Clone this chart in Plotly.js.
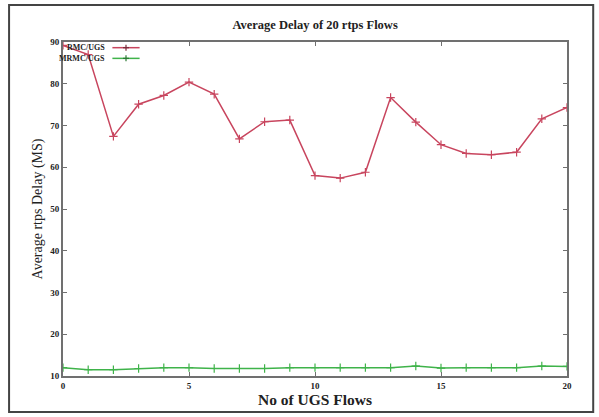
<!DOCTYPE html>
<html>
<head>
<meta charset="utf-8">
<script src="https://cdn.plot.ly/plotly-3.0.1.min.js"></script>
<style>html,body{margin:0;padding:0;background:#fff;}#chart{width:599px;height:417px;}</style>
</head>
<body>
<div id="chart"></div>
<script>
const flows = [0,1,2,3,4,5,6,7,8,9,10,11,12,13,14,15,16,17,18,19,20];
const rmcDelay = [89.2,87.0,67.4,75.1,77.2,80.4,77.5,66.8,70.9,71.3,58.0,57.4,58.8,76.7,70.8,65.4,63.3,63.0,63.6,71.6,74.3];
const mrmcDelay = [12.0,11.5,11.5,11.8,12.0,12.0,11.8,11.8,11.8,12.0,12.0,12.0,12.0,12.0,12.4,11.9,12.0,12.0,12.0,12.4,12.3];
const seriesNames = ["RMC/UGS","MRMC/UGS"];
const xTicks = [0,5,10,15,20];
const yTicks = [10,20,30,40,50,60,70,80,90];

const redC = '#c8455e', greenC = '#3fb34a';
const redM = '#7a2a3a', greenM = '#2a7a33';
const serif = 'Liberation Serif, DejaVu Serif, serif';

const traces = [
  {x: flows, y: rmcDelay, name: seriesNames[0], mode: 'lines+markers',
   line: {color: redC, width: 1.5},
   marker: {symbol: 'cross-thin-open', size: 6, line: {color: redM, width: 1.2}}},
  {x: flows, y: mrmcDelay, name: seriesNames[1], mode: 'lines+markers',
   line: {color: greenC, width: 1.5},
   marker: {symbol: 'cross-thin-open', size: 6, line: {color: greenM, width: 1.2}}}
];

const axisCommon = {
  showgrid: false, zeroline: false, showline: true, mirror: 'ticks',
  linecolor: '#707070', linewidth: 2, ticks: 'inside', ticklen: 4,
  tickcolor: '#707070', tickwidth: 1,
  tickfont: {family: serif, size: 9, color: '#222', weight: 'bold'}
};

// legend sample geometry (paper coords)
const ly = [0.983, 0.951];
const lx0 = 0.098, lx1 = 0.152, lxc = 0.125, dx = 0.006, dy = 0.009;
const legendShapes = [];
[redC, greenC].forEach((c, i) => {
  const m = i === 0 ? redM : greenM;
  legendShapes.push({type: 'line', xref: 'paper', yref: 'paper', x0: lx0, x1: lx1, y0: ly[i], y1: ly[i], line: {color: c, width: 1.5}});
  legendShapes.push({type: 'line', xref: 'paper', yref: 'paper', x0: lxc - dx, x1: lxc + dx, y0: ly[i], y1: ly[i], line: {color: m, width: 1.2}});
  legendShapes.push({type: 'line', xref: 'paper', yref: 'paper', x0: lxc, x1: lxc, y0: ly[i] - dy, y1: ly[i] + dy, line: {color: m, width: 1.2}});
});

const layout = {
  width: 599, height: 417,
  margin: {l: 63, r: 32, t: 42, b: 41},
  paper_bgcolor: '#fff', plot_bgcolor: '#fff',
  showlegend: false,
  title: {text: 'Average Delay of 20 rtps Flows', x: 0.526, xanchor: 'center', y: 0.94, yanchor: 'middle',
          font: {family: serif, size: 12.5, color: '#222', weight: 'bold'}},
  xaxis: Object.assign({}, axisCommon, {
    range: [0, 20], tickvals: xTicks, ticktext: xTicks.map(String),
    title: {text: 'No of UGS Flows', standoff: 4, font: {family: serif, size: 15.5, color: '#222', weight: 'bold'}}
  }),
  yaxis: Object.assign({}, axisCommon, {
    range: [10, 90], tickvals: yTicks, ticktext: yTicks.map(String),
    title: {text: 'Average rtps Delay (MS)', standoff: 4, font: {family: serif, size: 14, color: '#222'}}
  }),
  shapes: [
    {type: 'rect', xref: 'paper', yref: 'paper', x0: -0.107, x1: 1.052, y0: -0.108, y1: 1.111,
     line: {color: '#444', width: 2}, fillcolor: 'rgba(0,0,0,0)', layer: 'below'}
  ].concat(legendShapes),
  annotations: [
    {xref: 'paper', yref: 'paper', x: 0.088, y: ly[0], xanchor: 'right', yanchor: 'middle', showarrow: false,
     text: seriesNames[0], font: {family: serif, size: 8, color: '#222', weight: 'bold'}},
    {xref: 'paper', yref: 'paper', x: 0.088, y: ly[1], xanchor: 'right', yanchor: 'middle', showarrow: false,
     text: seriesNames[1], font: {family: serif, size: 8, color: '#222', weight: 'bold'}}
  ]
};

Plotly.newPlot('chart', traces, layout, {displayModeBar: false, staticPlot: true});
</script>
</body>
</html>
